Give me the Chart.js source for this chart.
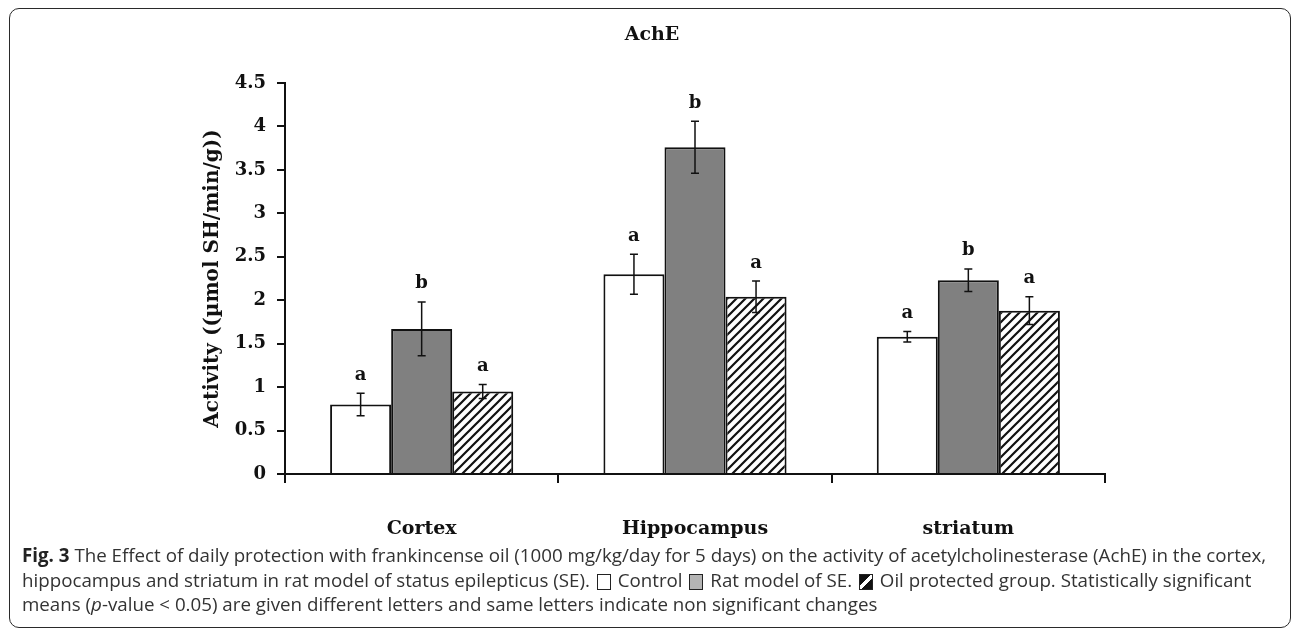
<!DOCTYPE html>
<html><head><meta charset="utf-8">
<script src="https://cdn.jsdelivr.net/npm/chart.js@4"></script>
<style>
html,body{margin:0;padding:0;background:#fff;width:1292px;height:630px;overflow:hidden;}
#frame{position:absolute;left:9px;top:8px;width:1282px;height:620px;border:1.5px solid #2a2a2a;border-radius:10px;box-sizing:border-box;}
#c{position:absolute;left:0;top:0;}
#cap{position:absolute;left:22px;top:543px;font-family:'Open Sans',sans-serif;font-size:15px;color:#333;line-height:24.5px;white-space:nowrap;}
#cap b{color:#222;}
.sw{display:inline-block;width:14px;height:16px;border:1.5px solid #222;vertical-align:-3px;box-sizing:border-box;margin:0 2px;}
.sw.w{background:#fff;}
.sw.g{background:#b4b4b4;}
.sw.h{background:linear-gradient(135deg,#111 0%,#111 42%,#fff 42%,#fff 58%,#111 58%,#111 100%);}
</style>
</head><body>
<div id="frame"></div>
<canvas id="c" width="1292" height="545"></canvas>
<div id="cap">
<div id="l1"><b>Fig. 3</b> The Effect of daily protection with frankincense oil (1000 mg/kg/day for 5 days) on the activity of acetylcholinesterase (AchE) in the cortex,</div>
<div id="l2">hippocampus and striatum in rat model of status epilepticus (SE). <span class="sw w"></span> Control <span class="sw g"></span> Rat model of SE. <span class="sw h"></span> Oil protected group. Statistically significant</div>
<div id="l3">means (<i>p</i>-value &lt; 0.05) are given different letters and same letters indicate non significant changes</div>
</div>
<script>
const categories = ['Cortex', 'Hippocampus', 'striatum'];
const seriesNames = ['Control', 'Rat model of SE', 'Oil protected group'];
const controlMeans = [0.80, 2.30, 1.58];
const controlErr = [0.13, 0.23, 0.06];
const seMeans = [1.67, 3.76, 2.23];
const seErr = [0.31, 0.30, 0.13];
const oilMeans = [0.95, 2.04, 1.88];
const oilErr = [0.08, 0.18, 0.16];
const controlLetters = ['a', 'a', 'a'];
const seLetters = ['b', 'b', 'b'];
const oilLetters = ['a', 'a', 'a'];
const yTickLabels = ['0', '0.5', '1', '1.5', '2', '2.5', '3', '3.5', '4', '4.5'];
const chartTitle = 'AchE';
const yTitle = 'Activity ((\u00b5mol SH/min/g))';

// fit caption first line width
(function(){
  const l1 = document.getElementById('l1');
  const w = l1.getBoundingClientRect().width;
  const target = 1245;
  document.getElementById('cap').style.fontSize = (15 * target / w).toFixed(3) + 'px';
})();

function hatchPattern(){
  const s = 9;
  const c = document.createElement('canvas'); c.width = s; c.height = s;
  const x = c.getContext('2d');
  x.fillStyle = '#fff'; x.fillRect(0,0,s,s);
  x.strokeStyle = '#111'; x.lineWidth = 2.2;
  x.beginPath();
  x.moveTo(-1, s+1); x.lineTo(s+1, -1);
  x.moveTo(-1, 1); x.lineTo(1, -1);
  x.moveTo(s-1, s+1); x.lineTo(s+1, s-1);
  x.stroke();
  return document.getElementById('c').getContext('2d').createPattern(c, 'repeat');
}

const SERIF = '"DejaVu Serif", serif';

const errPlugin = {
  id: 'errbars',
  afterDatasetsDraw(chart){
    const ctx = chart.ctx, y = chart.scales.y;
    chart.data.datasets.forEach((ds, i) => {
      const meta = chart.getDatasetMeta(i);
      meta.data.forEach((bar, j) => {
        const v = ds.data[j], e = ds.errors[j];
        const yt = y.getPixelForValue(v + e), yb = y.getPixelForValue(v - e);
        ctx.save();
        ctx.strokeStyle = '#111'; ctx.lineWidth = 1.5;
        ctx.beginPath();
        ctx.moveTo(bar.x, yt); ctx.lineTo(bar.x, yb);
        ctx.moveTo(bar.x - 4, yt); ctx.lineTo(bar.x + 4, yt);
        ctx.moveTo(bar.x - 4, yb); ctx.lineTo(bar.x + 4, yb);
        ctx.stroke();
        ctx.font = 'bold 18px ' + SERIF;
        ctx.textAlign = 'center'; ctx.textBaseline = 'alphabetic';
        ctx.fillStyle = '#111';
        ctx.fillText(ds.letters[j], bar.x, yt - 13.5);
        ctx.restore();
      });
    });
  }
};

const common = {borderColor: '#111', borderWidth: 2, barPercentage: 1, categoryPercentage: 0.67};

new Chart(document.getElementById('c'), {
  type: 'bar',
  data: {
    labels: categories,
    datasets: [
      Object.assign({label: seriesNames[0], data: controlMeans, errors: controlErr, letters: controlLetters, backgroundColor: '#fff'}, common),
      Object.assign({label: seriesNames[1], data: seMeans, errors: seErr, letters: seLetters, backgroundColor: '#808080'}, common),
      Object.assign({label: seriesNames[2], data: oilMeans, errors: oilErr, letters: oilLetters, backgroundColor: hatchPattern()}, common)
    ]
  },
  options: {
    responsive: false,
    animation: false,
    devicePixelRatio: 1,
    layout: {padding: {left: 12, right: 0, top: 0, bottom: 0}},
    plugins: {
      legend: {display: false},
      tooltip: {enabled: false},
      title: {display: true, text: chartTitle, color: '#111',
        font: {family: SERIF, weight: 'bold', size: 19},
        padding: {top: 24, bottom: 36.2}}
    },
    scales: {
      x: {
        grid: {display: true, drawOnChartArea: false, drawTicks: true, tickLength: 9, color: '#111', lineWidth: 2, offset: true},
        border: {display: true, color: '#111', width: 2},
        ticks: {color: '#111', font: {family: SERIF, weight: 'bold', size: 19}, padding: 35, maxRotation: 0},
        afterFit(s){ s.height = 71; }
      },
      y: {
        min: 0, max: 4.5,
        grid: {display: true, drawOnChartArea: false, drawTicks: true, tickLength: 8, color: '#111', lineWidth: 2},
        border: {display: true, color: '#111', width: 2},
        ticks: {stepSize: 0.5, color: '#111', padding: 11,
          font: {family: SERIF, weight: 'bold', size: 18},
          callback: (v, i) => yTickLabels[i]},
        title: {display: true, text: yTitle, color: '#111',
          font: {family: SERIF, weight: 'bold', size: 20},
          padding: {top: 189, bottom: 0}},
        afterFit(s){ s.width = 273; }
      },
      spacer: {
        type: 'linear', position: 'right', display: true,
        grid: {display: false}, border: {display: false}, ticks: {display: false},
        afterFit(s){ s.width = 187; }
      }
    }
  },
  plugins: [errPlugin]
});
</script>
</body></html>
